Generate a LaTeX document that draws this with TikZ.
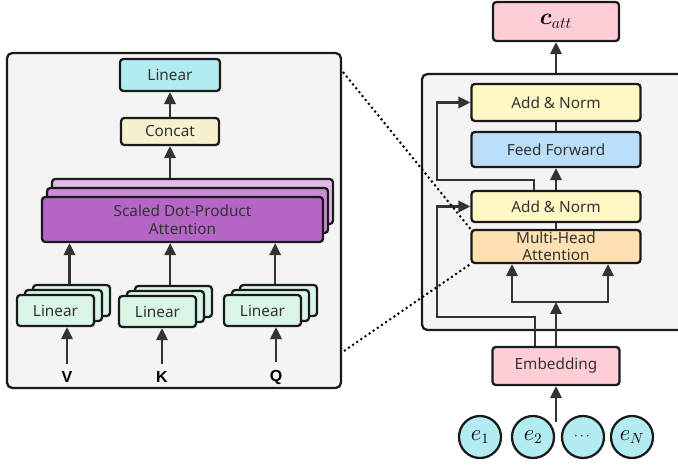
\documentclass[tikz,border=0pt]{standalone}
\usepackage{fontspec}
\setmainfont{Noto Sans}
\newfontfamily\lblfont{Liberation Sans}
\usepackage{amsmath}
\usepackage{bm}
\usetikzlibrary{arrows.meta}

\definecolor{boxline}{RGB}{26,26,26}
\definecolor{arrc}{RGB}{51,51,51}
\definecolor{txt}{RGB}{51,51,51}
\definecolor{panelc}{RGB}{244,244,244}
\definecolor{cyanc}{RGB}{178,235,242}
\definecolor{concatc}{RGB}{245,240,205}
\definecolor{sdpa1}{RGB}{181,101,198}
\definecolor{sdpa2}{RGB}{201,141,213}
\definecolor{sdpa3}{RGB}{227,185,234}
\definecolor{mintc}{RGB}{217,245,230}
\definecolor{pinkc}{RGB}{255,205,214}
\definecolor{addc}{RGB}{255,248,197}
\definecolor{ffc}{RGB}{187,222,251}
\definecolor{mhac}{RGB}{255,224,178}

\tikzset{every picture/.style={line width=1.7pt}}
\tikzset{
  box/.style={draw=boxline, line width=1.7pt, rounded corners=2.5pt, text=txt, inner sep=0pt, align=center, font=\fontsize{11.5}{13}\selectfont},
  panel/.style={draw=boxline, fill=panelc, line width=1.7pt, rounded corners=4pt, inner sep=0pt},
  arr/.style={draw=arrc, line width=1.7pt, -{Triangle[length=9pt,width=8.5pt]}},
  link/.style={draw=arrc, line width=1.7pt},
  zoomline/.style={draw=black, line width=1.5pt, dash pattern=on 1.5pt off 2.25pt},
  inlabel/.style={inner sep=0pt, text=black, font=\fontsize{12}{13}\selectfont\lblfont\bfseries},
  token/.style={circle, draw=boxline, fill=cyanc, line width=1.7pt, minimum size=31.5pt, inner sep=0pt, font=\fontsize{16}{18}\selectfont}
}

\begin{document}
\begin{tikzpicture}[x=0.75pt,y=0.75pt,yscale=-1,xscale=1]
\useasboundingbox (0,0) rectangle (678,466);

% Panels
\node [panel, minimum width=250.5pt, minimum height=251.25pt] (lpanel) at (174,220.5) {};
\node [panel, minimum width=201pt, minimum height=192pt] (rpanel) at (556,202) {};

%% Multi-head attention (left)
% Linear / Concat
\node [box, fill=cyanc, minimum width=75pt, minimum height=24pt] (lin) at (170,75) {Linear};
\node [box, fill=concatc, minimum width=73.5pt, minimum height=20.25pt] (cat) at (170,131.5) {Concat};
% Scaled Dot-Product Attention stack
\node [box, fill=sdpa3, minimum width=210.75pt, minimum height=33.75pt] (sdpa3) at (192.5,201.5) {};
\node [box, fill=sdpa2, minimum width=210.75pt, minimum height=33.75pt] (sdpa2) at (187.5,210.5) {};
\node [box, fill=sdpa1, minimum width=210.75pt, minimum height=33.75pt, font=\fontsize{11.5}{13.5}\selectfont] (sdpa) at (182.5,219.5) {Scaled Dot-Product\\Attention};
% Linear stacks
\node [box, fill=mintc, minimum width=57.75pt, minimum height=23.25pt] (lv3) at (71.5,300.5) {};
\node [box, fill=mintc, minimum width=57.75pt, minimum height=23.25pt] (lv2) at (63.5,305.5) {};
\node [box, fill=mintc, minimum width=57.75pt, minimum height=23.25pt] (lv) at (55.5,310.5) {Linear};
\node [box, fill=mintc, minimum width=57.75pt, minimum height=23.25pt] (lk3) at (173.5,301.5) {};
\node [box, fill=mintc, minimum width=57.75pt, minimum height=23.25pt] (lk2) at (165.5,306.5) {};
\node [box, fill=mintc, minimum width=57.75pt, minimum height=23.25pt] (lk) at (157.5,311.5) {Linear};
\node [box, fill=mintc, minimum width=57.75pt, minimum height=23.25pt] (lq3) at (278.5,300.5) {};
\node [box, fill=mintc, minimum width=57.75pt, minimum height=23.25pt] (lq2) at (270.5,305.5) {};
\node [box, fill=mintc, minimum width=57.75pt, minimum height=23.25pt] (lq) at (262.5,310.5) {Linear};
% Inputs
\node [inlabel] (V) at (67,377) {V};
\node [inlabel] (K) at (162,377) {K};
\node [inlabel] (Q) at (276,377) {Q};

% Arrows (left)
\draw [arr] (cat.north) -- (lin.south);
\draw [arr] (sdpa3.north -| cat.south) -- (cat.south);
\draw [arr] ([xshift=-1.5pt]lv3.north) -- ([xshift=-1.5pt]lv3.north |- sdpa.south);
\draw [arr] ([xshift=-2.5pt]lk3.north) -- ([xshift=-2.5pt]lk3.north |- sdpa.south);
\draw [arr] ([xshift=-2.5pt]lq3.north) -- ([xshift=-2.5pt]lq3.north |- sdpa.south);
\draw [arr] ([yshift=-5pt]V.north) -- (V.north |- lv.south);
\draw [arr] ([yshift=-5pt]K.north) -- (K.north |- lk.south);
\draw [arr] ([yshift=-5pt]Q.north) -- (Q.north |- lq.south);

%% Encoder block (right)
\node [box, fill=pinkc, minimum width=94.5pt, minimum height=29.25pt, text=black, font=\fontsize{17}{19}\selectfont] (catt) at (556,21.5) {$\bm{c}_{att}$};
\node [box, fill=addc, minimum width=126.75pt, minimum height=27.75pt] (an1) at (556,102.5) {Add \& Norm};
\node [box, fill=ffc, minimum width=126.75pt, minimum height=26.25pt] (ff) at (556,149.5) {Feed Forward};
\node [box, fill=addc, minimum width=126.75pt, minimum height=23.25pt] (an2) at (556,206.5) {Add \& Norm};
\node [box, fill=mhac, minimum width=126.75pt, minimum height=24.75pt, font=\fontsize{11.5}{12.5}\selectfont] (mha) at (556,246.5) {Multi-Head\\Attention};
\node [box, fill=pinkc, minimum width=95.25pt, minimum height=28.5pt] (emb) at (556,366) {Embedding};
% Tokens
\node [token] (e1) at (480,437) {$e_1$};
\node [token] (e2) at (533,437) {$e_2$};
\node [token, font=\fontsize{10}{12}\selectfont] (ed) at (583,437) {$\cdots$};
\node [token] (eN) at (632,437) {$e_N$};

\coordinate (split) at (556,302);
\coordinate (inp) at (556,422);

% Arrows (right)
\draw [arr] (rpanel.north -| catt.south) -- (catt.south);
\draw [link] (ff.north) -- (an1.south);
\draw [arr] (an2.north) -- (ff.south);
\draw [link] (mha.north) -- (an2.south);
\draw [arr] ([xshift=-16.5pt]an2.north) -- ++(0,-10) -- ++(-97,0) |- (an1.west);
\draw [arr] ([xshift=-15.75pt]emb.north) -- ++(0,-29) -- ++(-98,0) |- (an2.west);
\draw [arr] (emb.north) -- (split);
\draw [arr] (split) -| ([xshift=-33pt]mha.south);
\draw [arr] (split) -| ([xshift=39pt]mha.south);
\draw [arr] (inp) -- (emb.south);

% Zoom lines
\coordinate (zt) at (343,72);
\coordinate (zb) at (344,351);
\draw [zoomline] (zt) -- (mha.north west);
\draw [zoomline] (zb) -- (mha.south west);

\end{tikzpicture}
\end{document}
